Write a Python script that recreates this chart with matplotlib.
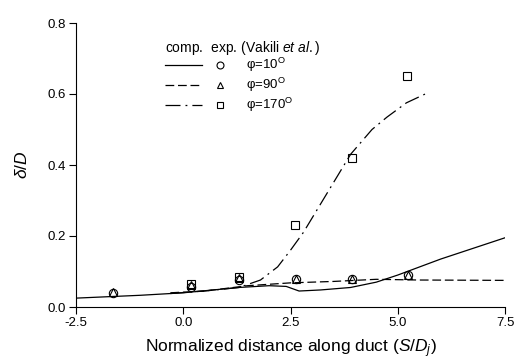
import matplotlib
matplotlib.use("Agg")
import matplotlib.pyplot as plt
from matplotlib.lines import Line2D

plt.rcParams['font.family'] = ['Liberation Sans', 'DejaVu Sans']
plt.rcParams['mathtext.fontset'] = 'custom'
plt.rcParams['mathtext.rm'] = 'Liberation Sans'
plt.rcParams['mathtext.it'] = 'Liberation Sans:italic'
plt.rcParams['mathtext.bf'] = 'Liberation Sans:bold'

# Experimental data (Vakili et al.)
exp_x = [-1.64, 0.18, 1.3, 2.63, 3.94, 5.24]
exp_phi10 = [0.040, 0.055, 0.075, 0.080, 0.080, 0.090]
exp_phi90 = [0.042, 0.062, 0.082, 0.080, 0.080, 0.090]
exp_x170 = [0.18, 1.3, 2.6, 3.93, 5.22]
exp_phi170 = [0.065, 0.085, 0.23, 0.42, 0.65]

# Computations
comp10_x = [-2.5, -1.0, 0.0, 1.3, 2.0, 2.4, 2.7, 3.2, 3.9, 4.5, 5.0, 6.0, 7.5]
comp10_y = [0.025, 0.033, 0.040, 0.055, 0.060, 0.058, 0.045, 0.048, 0.055, 0.070, 0.090, 0.135, 0.195]
comp90_x = [-0.3, 0.5, 1.5, 2.5, 3.5, 4.5, 5.5, 7.5]
comp90_y = [0.040, 0.045, 0.060, 0.068, 0.072, 0.078, 0.076, 0.075]
comp170_x = [-0.3, 0.5, 1.3, 1.8, 2.2, 2.5, 2.8, 3.35, 3.9, 4.4, 4.75, 5.2, 5.64]
comp170_y = [0.038, 0.045, 0.055, 0.076, 0.113, 0.160, 0.210, 0.320, 0.430, 0.500, 0.535, 0.575, 0.600]

xticks = [-2.5, 0.0, 2.5, 5.0, 7.5]
yticks = [0.0, 0.2, 0.4, 0.6, 0.8]

fig = plt.figure(figsize=(5.15, 3.62), dpi=100)
ax = fig.add_axes([76/515, 1-307/362, (505-76)/515, (307-23)/362])

ls90 = (0, (7, 3))
ls170 = (0, (12, 4, 1.5, 4))
ax.plot(comp10_x, comp10_y, color='black', lw=0.9, ls='-')
ax.plot(comp90_x, comp90_y, color='black', lw=0.9, ls=ls90)
ax.plot(comp170_x, comp170_y, color='black', lw=0.9, ls=ls170)

mk = dict(ls='none', mfc='none', mec='black', mew=0.8, ms=6)
ax.plot(exp_x, exp_phi90, marker='^', **mk)
ax.plot(exp_x170, exp_phi170, marker='s', **{**mk, 'ms': 5.5})
ax.plot(exp_x, exp_phi10, marker='o', **mk)

ax.set_xlim(-2.5, 7.5)
ax.set_ylim(0.0, 0.8)
ax.set_xticks(xticks)
ax.set_xticklabels([f"{t:.1f}" for t in xticks])
ax.set_yticks(yticks)
ax.set_yticklabels([f"{t:.1f}" for t in yticks])
ax.spines['top'].set_visible(False)
ax.spines['right'].set_visible(False)
ax.tick_params(direction='out', length=5, width=0.8, labelsize=9.5, pad=2)

ax.set_xlabel('Normalized distance along duct ($\\mathit{S/D_j}$)', fontsize=12.5, labelpad=6)
ax.set_ylabel('$\\mathit{\\delta/D}$', fontsize=12.5, labelpad=13)

# Legend (manual)
tr = fig.transFigure
def fx(px): return px/515
def fy(py): return 1-py/362
fig.text(fx(165), fy(48), 'comp.  exp. (Vakili $\\mathit{et\\ al.}$)', fontsize=10, va='center', ha='left')
rows = [(65, '-', 'o', '10'), (85, ls90, '^', '90'), (105, ls170, 's', '170')]
for py, ls, m, lab in rows:
    fig.add_artist(Line2D([fx(165), fx(202)], [fy(py), fy(py)], transform=tr, color='black', lw=0.9, ls=ls))
    fig.add_artist(Line2D([fx(220)], [fy(py)], transform=tr, marker=m, ls='none', mfc='none', mec='black', mew=0.8, ms=5))
    fig.text(fx(246), fy(py), 'φ=' + lab + '$^{\\mathregular{O}}$', fontsize=9.5, va='center', ha='left')

fig.savefig('out.png', dpi=100)
